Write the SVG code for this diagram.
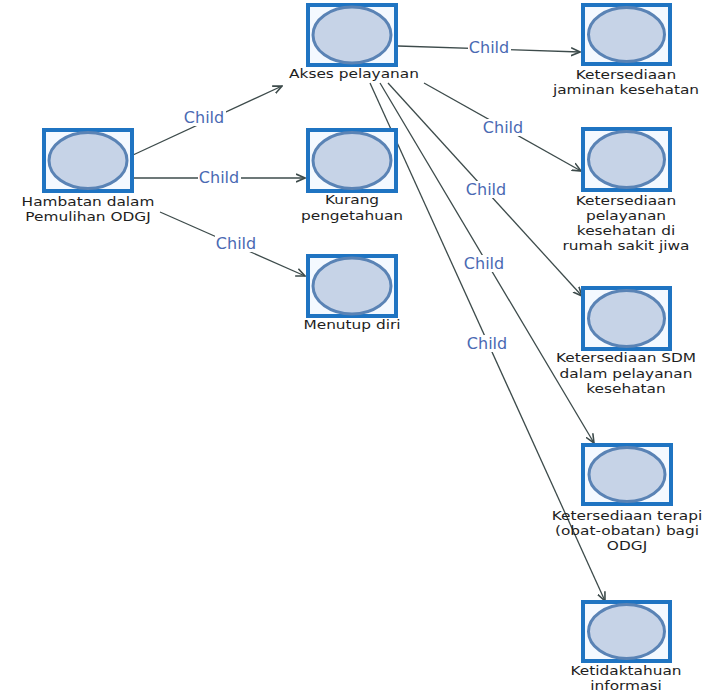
<svg xmlns="http://www.w3.org/2000/svg" width="711" height="696" viewBox="0 0 711 696">
<defs>
<style>
.box{fill:#f4f9ff;stroke:#1f74c2;stroke-width:4}
.el{fill:#c6d3e7;stroke:#5a83b5;stroke-width:3}
.lbl{font-family:"DejaVu Sans",sans-serif;font-size:12.8px;fill:#1e1e1e;text-anchor:middle}
.edge{stroke:#3d4b4b;stroke-width:1.3;fill:none;marker-end:url(#arr)}
.cl{font-family:"DejaVu Sans",sans-serif;font-size:16px;fill:#4a69b3;text-anchor:middle}
.bg{fill:#ffffff}
</style>
<marker id="arr" viewBox="0 0 10 10" refX="9" refY="5" markerWidth="10" markerHeight="10" markerUnits="userSpaceOnUse" orient="auto">
<path d="M0,1 L9,5 L0,9" fill="none" stroke="#3d4b4b" stroke-width="1.6"/>
</marker>
</defs>
<rect width="711" height="696" fill="#ffffff"/>
<g id="connectors">
<line class="edge" x1="133" y1="155" x2="282" y2="86"/>
<line class="edge" x1="134" y1="178" x2="305" y2="178"/>
<line class="edge" x1="160" y1="212" x2="305" y2="276"/>
<line class="edge" x1="398" y1="46" x2="580" y2="52"/>
<line class="edge" x1="424" y1="83" x2="581" y2="171"/>
<line class="edge" x1="388" y1="83" x2="582" y2="296"/>
<line class="edge" x1="380" y1="83" x2="594" y2="443"/>
<line class="edge" x1="370" y1="83" x2="605" y2="601"/>
<rect class="bg" x="183" y="109" width="43" height="17"/>
<text class="cl" x="204" y="123">Child</text>
<rect class="bg" x="198" y="169" width="43" height="17"/>
<text class="cl" x="219" y="183">Child</text>
<rect class="bg" x="215" y="235" width="43" height="17"/>
<text class="cl" x="236" y="249">Child</text>
<rect class="bg" x="468" y="39" width="43" height="17"/>
<text class="cl" x="489" y="53">Child</text>
<rect class="bg" x="482" y="119" width="43" height="17"/>
<text class="cl" x="503" y="133">Child</text>
<rect class="bg" x="465" y="181" width="43" height="17"/>
<text class="cl" x="486" y="195">Child</text>
<rect class="bg" x="463" y="255" width="43" height="17"/>
<text class="cl" x="484" y="269">Child</text>
<rect class="bg" x="466" y="335" width="43" height="17"/>
<text class="cl" x="487" y="349">Child</text>
</g>
<g id="hambatan">
<rect class="box" x="44" y="130" width="88" height="61"/>
<ellipse class="el" cx="88" cy="160.5" rx="39" ry="28"/>
<text class="lbl" transform="translate(88 206) scale(1.2 1)">Hambatan dalam</text>
<text class="lbl" transform="translate(88 221) scale(1.2 1)">Pemulihan ODGJ</text>
</g>
<g id="akses">
<rect class="box" x="308" y="5" width="88" height="60"/>
<ellipse class="el" cx="352" cy="35" rx="39" ry="28"/>
<text class="lbl" transform="translate(354 78) scale(1.2 1)">Akses pelayanan</text>
</g>
<g id="kurang">
<rect class="box" x="308" y="130" width="88" height="61"/>
<ellipse class="el" cx="352" cy="160.5" rx="39" ry="28"/>
<text class="lbl" transform="translate(352 204) scale(1.2 1)">Kurang</text>
<text class="lbl" transform="translate(352 220) scale(1.2 1)">pengetahuan</text>
</g>
<g id="menutup">
<rect class="box" x="308" y="256" width="88" height="60"/>
<ellipse class="el" cx="352" cy="286" rx="39" ry="28"/>
<text class="lbl" transform="translate(352 329) scale(1.2 1)">Menutup diri</text>
</g>
<g id="jaminan">
<rect class="box" x="583" y="5" width="87" height="59"/>
<ellipse class="el" cx="626.5" cy="34.5" rx="38" ry="27"/>
<text class="lbl" transform="translate(626 79) scale(1.2 1)">Ketersediaan</text>
<text class="lbl" transform="translate(626 94) scale(1.2 1)">jaminan kesehatan</text>
</g>
<g id="rsj">
<rect class="box" x="583" y="129" width="87" height="61"/>
<ellipse class="el" cx="626.5" cy="159.5" rx="38" ry="28"/>
<text class="lbl" transform="translate(626 205) scale(1.2 1)">Ketersediaan</text>
<text class="lbl" transform="translate(626 220) scale(1.2 1)">pelayanan</text>
<text class="lbl" transform="translate(626 235) scale(1.2 1)">kesehatan di</text>
<text class="lbl" transform="translate(626 250) scale(1.2 1)">rumah sakit jiwa</text>
</g>
<g id="sdm">
<rect class="box" x="583" y="288" width="87" height="61"/>
<ellipse class="el" cx="626.5" cy="318.5" rx="38" ry="28"/>
<text class="lbl" transform="translate(626 362) scale(1.2 1)">Ketersediaan SDM</text>
<text class="lbl" transform="translate(626 377.5) scale(1.2 1)">dalam pelayanan</text>
<text class="lbl" transform="translate(626 393) scale(1.2 1)">kesehatan</text>
</g>
<g id="terapi">
<rect class="box" x="583" y="445" width="88" height="59"/>
<ellipse class="el" cx="627" cy="474.5" rx="38" ry="27"/>
<text class="lbl" transform="translate(627 520) scale(1.2 1)">Ketersediaan terapi</text>
<text class="lbl" transform="translate(627 535) scale(1.2 1)">(obat-obatan) bagi</text>
<text class="lbl" transform="translate(627 550) scale(1.2 1)">ODGJ</text>
</g>
<g id="ketidaktahuan">
<rect class="box" x="583" y="602" width="87" height="59"/>
<ellipse class="el" cx="626.5" cy="631.5" rx="38" ry="27"/>
<text class="lbl" transform="translate(626 675) scale(1.2 1)">Ketidaktahuan</text>
<text class="lbl" transform="translate(626 690) scale(1.2 1)">informasi</text>
</g>
</svg>
